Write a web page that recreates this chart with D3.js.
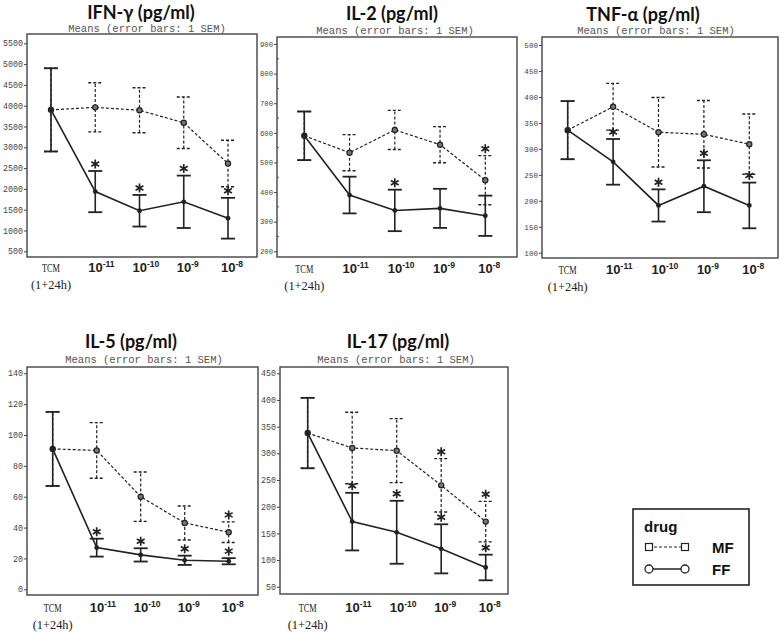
<!DOCTYPE html>
<html><head><meta charset="utf-8">
<script src="https://cdn.jsdelivr.net/npm/d3@7"></script>
<style>body{margin:0;background:#fff}</style>
</head><body>
<svg id="c" width="784" height="633"></svg>
<script>
// ---------- data ----------
const doses = ["TCM", "-11", "-10", "-9", "-8"];

const ifnMF = [3900, 3960, 3890, 3590, 2610];
const ifnMFsem = [1000, 590, 540, 620, 560];
const ifnFF = [3900, 1935, 1475, 1690, 1295];
const ifnFFsem = [1000, 495, 380, 630, 490];
const ifnStarMF = [0, 0, 0, 0, 0];
const ifnStarFF = [0, 1, 1, 1, 1];
const ifnTicks = [500, 1000, 1500, 2000, 2500, 3000, 3500, 4000, 4500, 5000, 5500];

const il2MF = [590, 533, 610, 560, 440];
const il2MFsem = [82, 61, 66, 61, 83];
const il2FF = [590, 390, 338, 345, 320];
const il2FFsem = [82, 62, 70, 66, 68];
const il2StarMF = [0, 0, 0, 0, 1];
const il2StarFF = [0, 0, 1, 0, 0];
const il2Ticks = [200, 300, 400, 500, 600, 700, 800, 900];

const tnfMF = [336, 381, 332, 328, 309];
const tnfMFsem = [56, 45, 67, 65, 58];
const tnfFF = [336, 275, 191, 228, 191];
const tnfFFsem = [56, 44, 31, 50, 44];
const tnfStarMF = [0, 0, 0, 0, 0];
const tnfStarFF = [0, 1, 1, 1, 1];
const tnfTicks = [100, 150, 200, 250, 300, 350, 400, 450, 500];

const il5MF = [91, 90, 60, 43, 37];
const il5MFsem = [24, 18, 16, 11, 6.7];
const il5FF = [91, 27, 22.3, 18.8, 18.2];
const il5FFsem = [24, 5.8, 4.3, 3, 2];
const il5StarMF = [0, 0, 0, 0, 1];
const il5StarFF = [0, 1, 1, 1, 1];
const il5Ticks = [0, 20, 40, 60, 80, 100, 120, 140];

const il17MF = [338, 310, 305, 240, 172];
const il17MFsem = [66, 67, 60, 50, 38];
const il17FF = [338, 172, 152, 121, 86];
const il17FFsem = [66, 54, 59, 46, 24];
const il17StarMF = [0, 0, 0, 1, 1];
const il17StarFF = [0, 1, 1, 1, 1];
const il17Ticks = [50, 100, 150, 200, 250, 300, 350, 400, 450];

const legendTitle = "drug";
const seriesNames = ["MF", "FF"];

// ---------- layout ----------
const panels = [
  {title:"IFN-γ (pg/ml)", mf:ifnMF, mfSem:ifnMFsem, ff:ifnFF, ffSem:ifnFFsem, sMF:ifnStarMF, sFF:ifnStarFF, ticks:ifnTicks,
   box:[27,34,257,257], yr:[251.3,43.3], xr:[51,228], tx:141, ty:19, sx:147, sy:32, tf:8.3, xl:[272,289], minor:false},
  {title:"IL-2 (pg/ml)", mf:il2MF, mfSem:il2MFsem, ff:il2FF, ffSem:il2FFsem, sMF:il2StarMF, sFF:il2StarFF, ticks:il2Ticks,
   box:[277,37,517,257], yr:[251.3,44], xr:[304.3,485.3], tx:392, ty:20, sx:395, sy:34, tf:7.2, xl:[273,290], minor:true},
  {title:"TNF-α (pg/ml)", mf:tnfMF, mfSem:tnfMFsem, ff:tnfFF, ffSem:tnfFFsem, sMF:tnfStarMF, sFF:tnfStarFF, ticks:tnfTicks,
   box:[542,37,778,258], yr:[252.7,45], xr:[567.7,749.3], tx:643, ty:21, sx:656, sy:34, tf:7.6, xl:[274,291], minor:false},
  {title:"IL-5 (pg/ml)", mf:il5MF, mfSem:il5MFsem, ff:il5FF, ffSem:il5FFsem, sMF:il5StarMF, sFF:il5StarFF, ticks:il5Ticks,
   box:[27,367,258,595], yr:[589.3,373.3], xr:[52.7,228.7], tx:131, ty:348, sx:144, sy:363, tf:8.3, xl:[612,629], minor:false},
  {title:"IL-17 (pg/ml)", mf:il17MF, mfSem:il17MFsem, ff:il17FF, ffSem:il17FFsem, sMF:il17StarMF, sFF:il17StarFF, ticks:il17Ticks,
   box:[280,367,508,594], yr:[586.7,373.3], xr:[307.7,485.7], tx:398, ty:348, sx:396, sy:363, tf:8.3, xl:[612,629], minor:false}
];

const svg = d3.select("#c");
const ink = "#222";
const mono = "'Liberation Mono', 'DejaVu Sans Mono', monospace";
const serif = "'Liberation Serif', 'DejaVu Serif', serif";
const sans = "'Liberation Sans', Arial, sans-serif";

panels.forEach(p => {
  const g = svg.append("g");
  const [x0, y0, x1, y1] = p.box;
  const y = d3.scaleLinear().domain([p.ticks[0], p.ticks[p.ticks.length-1]]).range(p.yr);
  const x = d3.scalePoint().domain(doses).range(p.xr);

  // frame
  g.append("rect").attr("x", x0).attr("y", y0).attr("width", x1-x0).attr("height", y1-y0)
    .attr("fill", "none").attr("stroke", "#444").attr("stroke-width", 1.4);

  // titles
  g.append("text").attr("x", p.tx).attr("y", p.ty).attr("text-anchor", "middle")
    .attr("font-family", "Lato, 'Open Sans', sans-serif").attr("font-weight", 700).attr("font-size", 18)
    .attr("fill", "#111").text(p.title);
  g.append("text").attr("x", p.sx).attr("y", p.sy).attr("text-anchor", "middle")
    .attr("font-family", mono).attr("font-size", 10.5).attr("fill", "#555")
    .text("Means (error bars: 1 SEM)");

  // y axis
  const ax = g.append("g").attr("transform", `translate(${x0},0)`)
    .call(d3.axisLeft(y).tickValues(p.ticks).tickSize(3).tickPadding(1).tickFormat(d3.format("d")));
  ax.select(".domain").remove();
  ax.selectAll(".tick line").attr("stroke", "#444");
  ax.selectAll(".tick text").attr("font-family", mono).attr("font-size", p.tf).attr("fill", "#444");
  if (p.minor) {
    const mids = p.ticks.slice(0, -1).map((t, i) => (t + p.ticks[i+1]) / 2);
    g.selectAll(".minor").data(mids).join("line")
      .attr("x1", x0).attr("x2", x0 + 2).attr("y1", d => y(d)).attr("y2", d => y(d))
      .attr("stroke", "#555").attr("stroke-width", 1);
  }

  // x labels
  doses.forEach(d => {
    if (d === "TCM") {
      g.append("text").attr("x", x(d)).attr("y", p.xl[0]).attr("text-anchor", "middle")
        .attr("font-family", serif).attr("font-size", 12.5).attr("fill", "#222")
        .attr("textLength", 18).attr("lengthAdjust", "spacingAndGlyphs").text("TCM");
      g.append("text").attr("x", x(d)).attr("y", p.xl[1]).attr("text-anchor", "middle")
        .attr("font-family", serif).attr("font-size", 12.5).attr("fill", "#222")
        .attr("textLength", 40).attr("lengthAdjust", "spacingAndGlyphs").text("(1+24h)");
    } else {
      const t = g.append("text").attr("x", x(d) - 7).attr("y", p.xl[0])
        .attr("font-family", sans).attr("font-weight", 700).attr("font-size", 13).attr("fill", "#222");
      t.append("tspan").text("10");
      t.append("tspan").attr("dy", -5).attr("font-size", 8.5).text(d);
    }
  });

  const series = [
    {name:"MF", m:p.mf, s:p.mfSem, st:p.sMF, dash:"3,2", w:1.2},
    {name:"FF", m:p.ff, s:p.ffSem, st:p.sFF, dash:null, w:1.6}
  ];
  const cap = 7;
  series.forEach(sr => {
    const eg = g.append("g");
    doses.forEach((d, i) => {
      const lo = sr.m[i] - sr.s[i], hi = sr.m[i] + sr.s[i];
      eg.append("line").attr("x1", x(d)).attr("x2", x(d)).attr("y1", y(lo)).attr("y2", y(hi))
        .attr("stroke", ink).attr("stroke-width", sr.w).attr("stroke-dasharray", sr.dash);
      [lo, hi].forEach(v => eg.append("line").attr("x1", x(d)-cap).attr("x2", x(d)+cap)
        .attr("y1", y(v)).attr("y2", y(v)).attr("stroke", ink).attr("stroke-width", sr.w + 0.2)
        .attr("stroke-dasharray", sr.dash));
    });
  });
  series.forEach(sr => {
    g.append("path").datum(sr.m)
      .attr("d", d3.line().x((v, i) => x(doses[i])).y(v => y(v)))
      .attr("fill", "none").attr("stroke", ink).attr("stroke-width", sr.w)
      .attr("stroke-dasharray", sr.dash);
  });
  // markers
  g.selectAll(".mfm").data(p.mf).join("circle")
    .attr("cx", (v, i) => x(doses[i])).attr("cy", v => y(v)).attr("r", 2.6)
    .attr("fill", "#777").attr("stroke", ink).attr("stroke-width", 1.2);
  g.selectAll(".ffm").data(p.ff).join("circle")
    .attr("cx", (v, i) => x(doses[i])).attr("cy", v => y(v)).attr("r", 2.4)
    .attr("fill", ink);

  // significance stars
  series.forEach(sr => {
    doses.forEach((d, i) => {
      if (!sr.st[i]) return;
      const cx = x(d), cy = y(sr.m[i] + sr.s[i]) - 7;
      g.append("path").attr("transform", `translate(${cx},${cy})`)
        .attr("d", "M0,-4.5V4.5M-3.9,-2.25L3.9,2.25M-3.9,2.25L3.9,-2.25")
        .attr("stroke", ink).attr("stroke-width", 1.7).attr("fill", "none");
    });
  });
});

// ---------- legend ----------
const lg = svg.append("g");
lg.append("rect").attr("x", 633).attr("y", 509).attr("width", 116).attr("height", 76)
  .attr("fill", "none").attr("stroke", ink).attr("stroke-width", 1.6);
lg.append("text").attr("x", 644).attr("y", 532).attr("font-family", sans).attr("font-weight", 700)
  .attr("font-size", 15).attr("fill", "#111").text(legendTitle);
seriesNames.forEach((n, i) => {
  const yy = 547 + i * 22;
  lg.append("line").attr("x1", 649).attr("x2", 685).attr("y1", yy).attr("y2", yy)
    .attr("stroke", ink).attr("stroke-width", n === "MF" ? 1.2 : 1.6)
    .attr("stroke-dasharray", n === "MF" ? "3,2" : null);
  [649, 685].forEach(cx => {
    if (n === "MF") {
      lg.append("rect").attr("x", cx - 3.5).attr("y", yy - 3.5).attr("width", 7).attr("height", 7)
        .attr("fill", "#fff").attr("stroke", ink).attr("stroke-width", 1.2);
    } else {
      lg.append("circle").attr("cx", cx).attr("cy", yy).attr("r", 4)
        .attr("fill", "#fff").attr("stroke", ink).attr("stroke-width", 1.3);
    }
  });
  lg.append("text").attr("x", 712).attr("y", yy + 6).attr("font-family", sans).attr("font-weight", 700)
    .attr("font-size", 15).attr("fill", "#111").text(n);
});
</script>
</body></html>
